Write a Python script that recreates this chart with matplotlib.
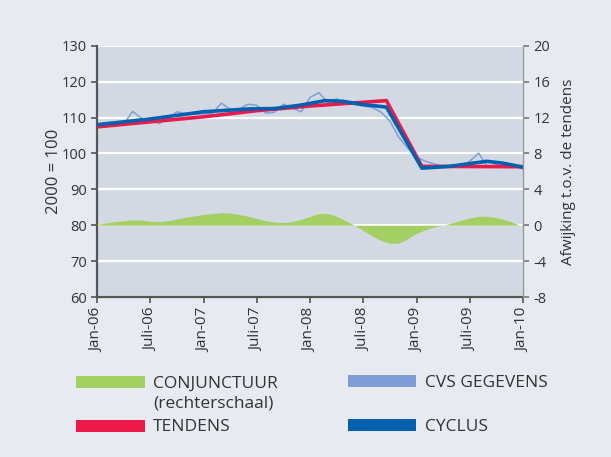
import numpy as np
import matplotlib; matplotlib.use('Agg')
import matplotlib.pyplot as plt
from matplotlib.patches import Rectangle

plt.rcParams['font.family'] = ['Open Sans', 'DejaVu Sans']

# months since Jan-06
cvs_x = list(range(49))
cvs = [107.7, 107.6, 107.9, 108.2, 111.7, 109.8, 109.3, 108.3, 109.8, 111.6,
       111.0, 110.9, 111.0, 111.2, 114.0, 112.3, 112.3, 113.7, 113.4, 111.2,
       111.5, 113.7, 112.6, 111.6, 115.6, 116.9, 114.2, 115.2, 114.0, 113.6,
       113.2, 112.8, 111.5, 109.0, 104.5, 101.5, 99.0, 97.8, 97.1, 96.4,
       96.3, 96.2, 97.8, 100.1, 96.2, 96.9, 97.1, 96.5, 95.6]

tend_x = [0, 12, 18, 24, 32.6, 36.6, 48]
tend = [107.4, 110.2, 111.9, 113.2, 114.7, 96.4, 96.3]

cyc_x = [0, 6, 12, 17.2, 20, 22.8, 25.7, 27.7, 30, 32.6, 36.6, 39.7, 43.9, 45.7, 48]
cyc = [108.0, 109.6, 111.6, 112.4, 112.5, 113.4, 114.7, 114.5, 113.6, 112.9,
       95.9, 96.4, 97.8, 97.3, 96.2]

conj_x = list(range(49))
conj = [0.1, 0.25, 0.4, 0.5, 0.6, 0.55, 0.45, 0.4, 0.5, 0.7,
        0.9, 1.05, 1.2, 1.3, 1.4, 1.35, 1.2, 1.0, 0.75, 0.5,
        0.35, 0.3, 0.4, 0.65, 1.0, 1.3, 1.3, 1.0, 0.5, 0.0,
        -0.6, -1.2, -1.7, -2.0, -2.0, -1.5, -0.9, -0.5, -0.2, 0.0,
        0.25, 0.55, 0.8, 1.0, 1.0, 0.85, 0.6, 0.25, -0.15]

xticks = list(range(0, 49, 6))
xlabels = ['Jan-06', 'Juli-06', 'Jan-07', 'Juli-07', 'Jan-08', 'Juli-08', 'Jan-09', 'Juli-09', 'Jan-10']

BG = '#e7eaf1'; PLOT = '#d2d9e3'; INK = '#333333'
GREEN = '#a4cf62'; RED = '#ec1a4b'; BLUE = '#0060ae'; LBLUE = '#7f9ed6'

fig = plt.figure(figsize=(6.11, 4.57), dpi=100)
fig.patch.set_facecolor(BG)
ax = fig.add_axes([0.159, 0.350, 0.697, 0.550])
ax.set_facecolor(PLOT)

ax.plot(cvs_x, cvs, color=LBLUE, lw=1.1, zorder=3)
ax.plot(tend_x, tend, color=RED, lw=2.6, zorder=4, solid_joinstyle='miter')
ax.plot(cyc_x, cyc, color=BLUE, lw=2.6, zorder=5)

ax.set_xlim(0, 48); ax.set_ylim(60, 130)
ax.set_yticks(range(60, 131, 10))
ax.set_xticks(xticks)
ax.set_xticklabels(xlabels, rotation=90)
ax.grid(axis='y', color='white', lw=1.6)
ax.set_axisbelow(True)
for s in ('top', 'right'): ax.spines[s].set_visible(False)
for s in ('left', 'bottom'):
    ax.spines[s].set_color('#555555'); ax.spines[s].set_linewidth(1.6)
ax.tick_params(axis='y', colors='#555555', labelcolor=INK, labelsize=10.5, length=4, width=1.2)
ax.tick_params(axis='x', colors='#555555', labelcolor=INK, labelsize=11, length=4, width=1.2)
ax.set_ylabel('2000 = 100', fontsize=12, color=INK, labelpad=0)

ax2 = ax.twinx()
ax2.fill_between(conj_x, 0, conj, color=GREEN, lw=0, zorder=2)
ax2.set_ylim(-8, 20)
ax2.set_yticks(range(-8, 21, 4))
ax2.set_yticklabels([str(v) for v in range(-8, 21, 4)])
for s in ('top', 'left', 'bottom'): ax2.spines[s].set_visible(False)
ax2.spines['right'].set_color('#9a9a9a'); ax2.spines['right'].set_linewidth(1.0)
ax2.tick_params(axis='y', colors='#777777', labelcolor=INK, labelsize=10.5, length=4, width=1.2)
ax2.set_ylabel('Afwijking t.o.v. de tendens', fontsize=11, color=INK, labelpad=8)

# legend drawn in figure pixels
W, H = 611, 457
def patch(x0, y0, w, h, c):
    fig.patches.append(Rectangle((x0 / W, 1 - (y0 + h) / H), w / W, h / H,
                                 transform=fig.transFigure, color=c, lw=0))
def label(x0, yb, s):
    fig.text(x0 / W, 1 - yb / H, s, fontsize=12.5, color=INK, va='baseline', ha='left')

patch(76, 376, 69, 12, GREEN); label(153, 388, 'CONJUNCTUUR'); label(153, 407, '(rechterschaal)')
patch(76, 420, 69, 12, RED); label(153, 431, 'TENDENS')
patch(348, 375, 68, 12, LBLUE); label(425, 387, 'CVS GEGEVENS')
patch(348, 419, 68, 12, BLUE); label(425, 431, 'CYCLUS')

fig.savefig('out.png', dpi=100, facecolor=BG)
